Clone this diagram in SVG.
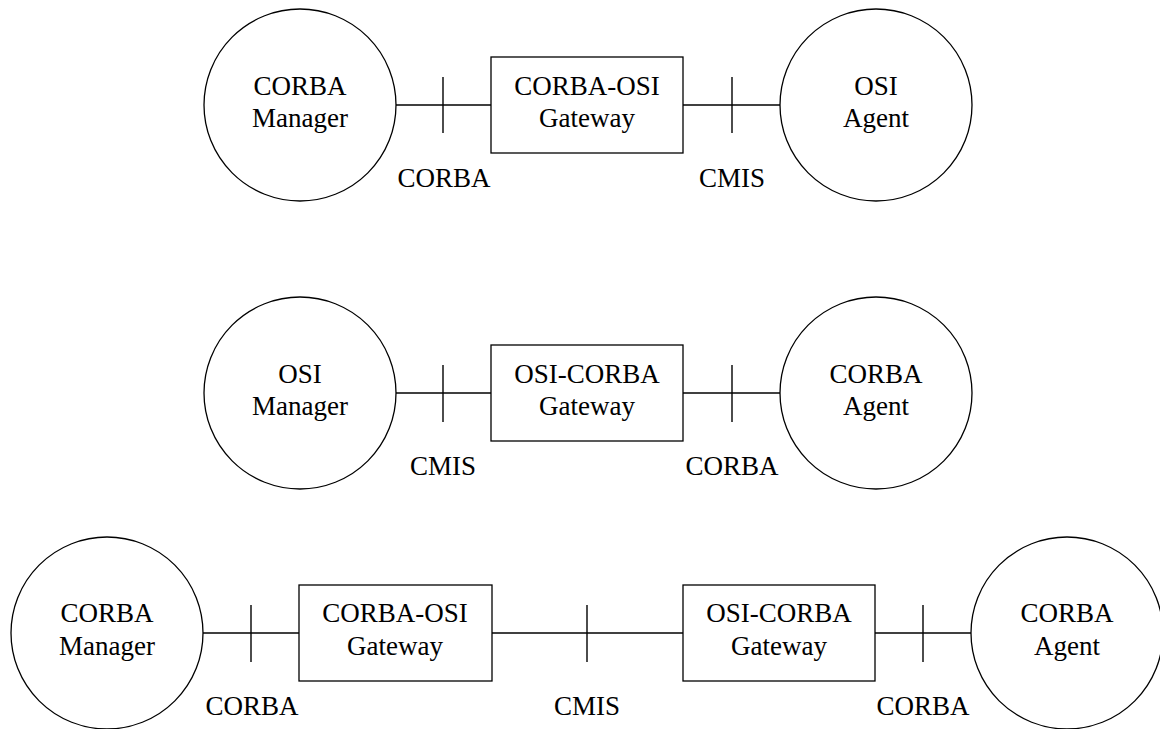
<svg xmlns="http://www.w3.org/2000/svg" width="1160" height="729" viewBox="0 0 1160 729">
  <style>
    .shape { fill: #fff; stroke: #000; stroke-width: 1.3; }
    .link { stroke: #000; stroke-width: 1.4; fill: none; }
    text { font-family: "Liberation Serif", "Times New Roman", serif; font-size: 27px; fill: #000; text-anchor: middle; }
  </style>
  <rect width="1160" height="729" fill="#fff"/>

  <!-- connectors: link lines with protocol ticks -->
  <g id="connectors">
    <!-- row 1 -->
    <line class="link" x1="396" y1="105" x2="491" y2="105"/>
    <line class="link" x1="443" y1="77" x2="443" y2="133"/>
    <line class="link" x1="683" y1="105" x2="780" y2="105"/>
    <line class="link" x1="732" y1="77" x2="732" y2="133"/>
    <!-- row 2 -->
    <line class="link" x1="396" y1="393" x2="491" y2="393"/>
    <line class="link" x1="443" y1="365" x2="443" y2="422"/>
    <line class="link" x1="683" y1="393" x2="780" y2="393"/>
    <line class="link" x1="732" y1="365" x2="732" y2="422"/>
    <!-- row 3 -->
    <line class="link" x1="203" y1="633" x2="299" y2="633"/>
    <line class="link" x1="251" y1="605" x2="251" y2="662"/>
    <line class="link" x1="492" y1="633" x2="683" y2="633"/>
    <line class="link" x1="587" y1="605" x2="587" y2="662"/>
    <line class="link" x1="875" y1="633" x2="971" y2="633"/>
    <line class="link" x1="923" y1="605" x2="923" y2="662"/>
  </g>

  <!-- protocol labels -->
  <g id="labels">
    <text x="444" y="187">CORBA</text>
    <text x="732" y="187">CMIS</text>
    <text x="443" y="475">CMIS</text>
    <text x="732" y="475">CORBA</text>
    <text x="252" y="715">CORBA</text>
    <text x="587" y="715">CMIS</text>
    <text x="923" y="715">CORBA</text>
  </g>

  <!-- row 1 -->
  <g id="corba-manager-1">
    <circle class="shape" cx="300" cy="105" r="96"/>
    <text x="300" y="95">CORBA</text>
    <text x="300" y="127">Manager</text>
  </g>
  <g id="corba-osi-gateway-1">
    <rect class="shape" x="491" y="57" width="192" height="96"/>
    <text x="587" y="95">CORBA-OSI</text>
    <text x="587" y="127">Gateway</text>
  </g>
  <g id="osi-agent">
    <circle class="shape" cx="876" cy="105" r="96"/>
    <text x="876" y="95">OSI</text>
    <text x="876" y="127">Agent</text>
  </g>

  <!-- row 2 -->
  <g id="osi-manager">
    <circle class="shape" cx="300" cy="393" r="96"/>
    <text x="300" y="383">OSI</text>
    <text x="300" y="415">Manager</text>
  </g>
  <g id="osi-corba-gateway-1">
    <rect class="shape" x="491" y="345" width="192" height="96"/>
    <text x="587" y="383">OSI-CORBA</text>
    <text x="587" y="415">Gateway</text>
  </g>
  <g id="corba-agent-1">
    <circle class="shape" cx="876" cy="393" r="96"/>
    <text x="876" y="383">CORBA</text>
    <text x="876" y="415">Agent</text>
  </g>

  <!-- row 3 -->
  <g id="corba-manager-2">
    <circle class="shape" cx="107" cy="633" r="96"/>
    <text x="107" y="622">CORBA</text>
    <text x="107" y="655">Manager</text>
  </g>
  <g id="corba-osi-gateway-2">
    <rect class="shape" x="299" y="585" width="193" height="96"/>
    <text x="395" y="622">CORBA-OSI</text>
    <text x="395" y="655">Gateway</text>
  </g>
  <g id="osi-corba-gateway-2">
    <rect class="shape" x="683" y="585" width="192" height="96"/>
    <text x="779" y="622">OSI-CORBA</text>
    <text x="779" y="655">Gateway</text>
  </g>
  <g id="corba-agent-2">
    <circle class="shape" cx="1067" cy="633" r="96"/>
    <text x="1067" y="622">CORBA</text>
    <text x="1067" y="655">Agent</text>
  </g>
</svg>
